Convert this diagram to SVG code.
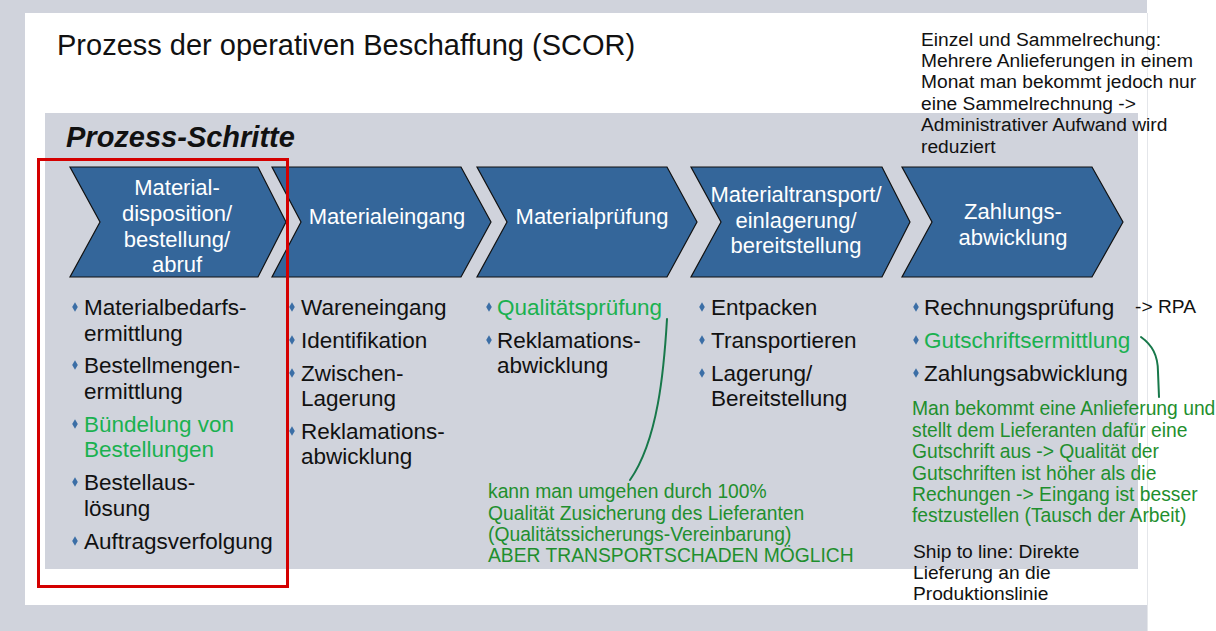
<svg xmlns="http://www.w3.org/2000/svg" width="1216" height="631" viewBox="0 0 1216 631">
<style>
text{font-family:"Liberation Sans",Arial,sans-serif;}
.chev{fill:#34669a;stroke:#111;stroke-width:1.2;}
.ct{fill:#fff;font-size:22px;text-anchor:middle;}
.b{font-size:22.5px;fill:#111;}
.bg{font-size:22.5px;fill:#1ab150;}
.dot{fill:#3b6ea6;}
.n{font-size:19.2px;fill:#111;}
.ng{font-size:19.3px;fill:#1f8f2e;}
.cur{fill:none;stroke:#17784a;stroke-width:2;stroke-linecap:round;}
</style>
<defs>
<polygon id="bul" points="0,-4.8 2.8,0 0,4.8 -2.8,0"/>
</defs>
<rect x="0" y="0" width="1216" height="631" fill="#d0d3dc"/>
<rect x="1147" y="0" width="69" height="631" fill="#fff"/>
<rect x="25" y="13" width="1122" height="592" fill="#fff"/>
<line x1="1147.5" y1="13" x2="1147.5" y2="631" stroke="#e4e6ea" stroke-width="1"/>
<rect x="45" y="113" width="1093" height="456" fill="#d0d3dc"/>
<text x="57" y="55" font-size="29" fill="#111">Prozess der operativen Beschaffung (SCOR)</text>
<text x="66" y="147" font-size="29" font-weight="bold" font-style="italic" fill="#111">Prozess-Schritte</text>

<g id="step1">
<polygon class="chev" points="70,167 258,167 286,222 258,277 70,277 100,222"/>
<text class="ct" x="177" y="195">Material-</text>
<text class="ct" x="177" y="221">disposition/</text>
<text class="ct" x="177" y="247">bestellung/</text>
<text class="ct" x="177" y="272">abruf</text>
</g>
<g id="step2">
<polygon class="chev" points="272,167 461,167 491,222 461,277 272,277 301,222"/>
<text class="ct" x="387" y="224">Materialeingang</text>
</g>
<g id="step3">
<polygon class="chev" points="477,167 667,167 697,222 667,277 477,277 507,222"/>
<text class="ct" x="592" y="224">Materialprüfung</text>
</g>
<g id="step4">
<polygon class="chev" points="691,167 882,167 910,222 882,277 691,277 721,222"/>
<text class="ct" x="796" y="202">Materialtransport/</text>
<text class="ct" x="796" y="228">einlagerung/</text>
<text class="ct" x="796" y="253">bereitstellung</text>
</g>
<g id="step5">
<polygon class="chev" points="902,167 1092,167 1123,222 1092,277 902,277 932,222"/>
<text class="ct" x="1013" y="219">Zahlungs-</text>
<text class="ct" x="1013" y="245">abwicklung</text>
</g>

<g id="list1">
<use href="#bul" class="dot" x="75" y="307"/>
<text class="b" x="84" y="315">Materialbedarfs-</text>
<text class="b" x="84" y="341">ermittlung</text>
<use href="#bul" class="dot" x="75" y="365"/>
<text class="b" x="84" y="373">Bestellmengen-</text>
<text class="b" x="84" y="399">ermittlung</text>
<use href="#bul" class="dot" x="75" y="424"/>
<text class="bg" x="84" y="432">Bündelung von</text>
<text class="bg" x="84" y="457">Bestellungen</text>
<use href="#bul" class="dot" x="75" y="482"/>
<text class="b" x="84" y="490">Bestellaus-</text>
<text class="b" x="84" y="516">lösung</text>
<use href="#bul" class="dot" x="75" y="541"/>
<text class="b" x="84" y="549">Auftragsverfolgung</text>
</g>
<g id="list2">
<use href="#bul" class="dot" x="292" y="307"/>
<text class="b" x="301" y="315">Wareneingang</text>
<use href="#bul" class="dot" x="292" y="340"/>
<text class="b" x="301" y="348">Identifikation</text>
<use href="#bul" class="dot" x="292" y="373"/>
<text class="b" x="301" y="381">Zwischen-</text>
<text class="b" x="301" y="406">Lagerung</text>
<use href="#bul" class="dot" x="292" y="431"/>
<text class="b" x="301" y="439">Reklamations-</text>
<text class="b" x="301" y="464">abwicklung</text>
</g>
<g id="list3">
<use href="#bul" class="dot" x="489" y="307"/>
<text class="bg" x="497" y="315">Qualitätsprüfung</text>
<use href="#bul" class="dot" x="489" y="340"/>
<text class="b" x="497" y="348">Reklamations-</text>
<text class="b" x="497" y="373">abwicklung</text>
</g>
<g id="list4">
<use href="#bul" class="dot" x="702" y="307"/>
<text class="b" x="711" y="315">Entpacken</text>
<use href="#bul" class="dot" x="702" y="340"/>
<text class="b" x="711" y="348">Transportieren</text>
<use href="#bul" class="dot" x="702" y="373"/>
<text class="b" x="711" y="381">Lagerung/</text>
<text class="b" x="711" y="406">Bereitstellung</text>
</g>
<g id="list5">
<use href="#bul" class="dot" x="916" y="307"/>
<text class="b" x="924" y="315">Rechnungsprüfung</text>
<use href="#bul" class="dot" x="916" y="340"/>
<text class="bg" x="924" y="348">Gutschriftsermittlung</text>
<use href="#bul" class="dot" x="916" y="373"/>
<text class="b" x="924" y="381">Zahlungsabwicklung</text>
</g>

<g id="highlight">
<rect x="38.5" y="159.5" width="249" height="427" fill="none" stroke="#d40000" stroke-width="3"/>
</g>

<g id="connectors">
<path class="cur" d="M667,319 C664,370 658,440 630,480"/>
<path class="cur" d="M1141,337 C1152,345 1158,355 1158,372 L1159,397"/>
</g>

<g id="note-rpa">
<text class="n" x="1135" y="313">-&gt; RPA</text>
</g>
<g id="note-sammel">
<text class="n" x="921" y="46">Einzel und Sammelrechung:</text>
<text class="n" x="921" y="67">Mehrere Anlieferungen in einem</text>
<text class="n" x="921" y="88">Monat man bekommt jedoch nur</text>
<text class="n" x="921" y="110">eine Sammelrechnung -&gt;</text>
<text class="n" x="921" y="131">Administrativer Aufwand wird</text>
<text class="n" x="921" y="153">reduziert</text>
</g>
<g id="note-qualitaet">
<text class="ng" x="488" y="498">kann man umgehen durch 100%</text>
<text class="ng" x="488" y="520">Qualität Zusicherung des Lieferanten</text>
<text class="ng" x="488" y="541">(Qualitätssicherungs-Vereinbarung)</text>
<text class="ng" x="488" y="562">ABER TRANSPORTSCHADEN MÖGLICH</text>
</g>
<g id="note-gutschrift">
<text class="ng" x="912" y="415">Man bekommt eine Anlieferung und</text>
<text class="ng" x="912" y="437">stellt dem Lieferanten dafür eine</text>
<text class="ng" x="912" y="458">Gutschrift aus -&gt; Qualität der</text>
<text class="ng" x="912" y="480">Gutschriften ist höher als die</text>
<text class="ng" x="912" y="501">Rechungen -&gt; Eingang ist besser</text>
<text class="ng" x="912" y="522">festzustellen (Tausch der Arbeit)</text>
</g>
<g id="note-ship">
<text class="n" x="913" y="558">Ship to line: Direkte</text>
<text class="n" x="913" y="579">Lieferung an die</text>
<text class="n" x="913" y="600">Produktionslinie</text>
</g>
</svg>
